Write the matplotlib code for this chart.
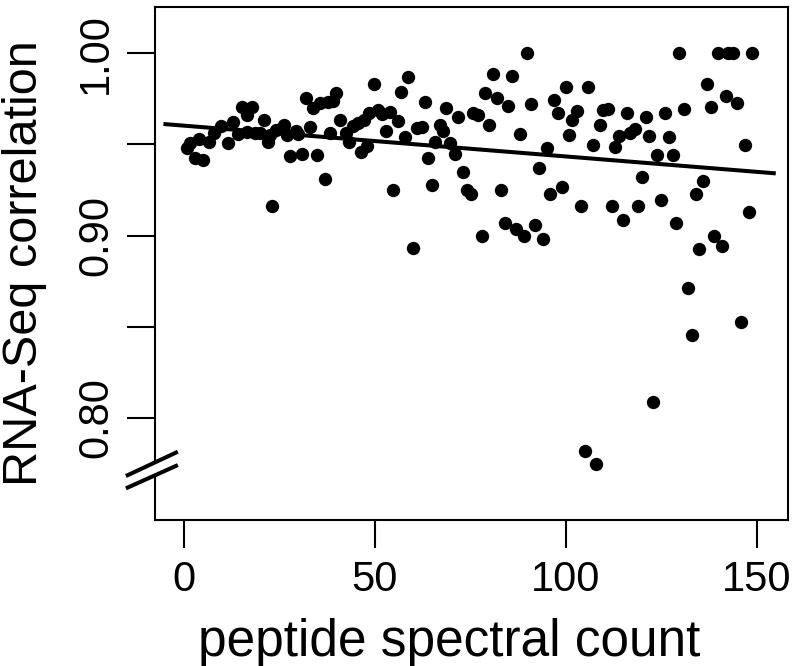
import matplotlib
matplotlib.use("Agg")
import matplotlib.pyplot as plt
from matplotlib.transforms import blended_transform_factory
from matplotlib.patches import Polygon

plt.rcParams['font.family'] = ['Liberation Sans', 'DejaVu Sans']

# ---- data ----
spectral_count = [
    1.0, 1.6, 3.0, 4.1, 5.1, 6.7, 8.0, 9.9, 11.7, 12.8, 14.3, 15.2, 16.5, 16.6, 18.0,
    18.7, 20.0, 21.0, 22.0, 22.6, 23.0, 24.3, 26.2, 27.0, 27.8, 29.3, 30.0, 30.9, 32.0,
    33.1, 33.9, 34.8, 35.8, 37.0, 37.9, 38.3, 39.0, 40.0, 40.9, 42.5, 43.3, 44.4, 45.7,
    46.5, 47.3, 47.9, 48.5, 49.8, 50.9, 52.0, 53.0, 54.0, 54.9, 56.2, 57.0, 58.0, 58.8,
    60.1, 61.0, 62.3, 63.2, 64.0, 64.9, 65.8, 67.1, 68.0, 68.8, 69.7, 71.0, 71.9, 73.1,
    74.1, 75.1, 75.8, 77.1, 78.0, 78.9, 79.9, 81.0, 82.0, 83.0, 84.1, 85.0, 85.9, 87.0,
    88.0, 89.0, 89.9, 90.9, 92.0, 93.0, 94.0, 95.0, 96.0, 97.0, 98.0, 99.0, 100.0, 100.9,
    101.6, 102.9, 104.0, 105.0, 105.9, 107.1, 107.9, 109.0, 109.8, 111.2, 112.0, 113.0,
    113.9, 114.9, 116.0, 116.9, 118.1, 119.0, 119.9, 121.0, 121.9, 122.9, 123.8, 125.0,
    126.0, 127.0, 128.0, 129.0, 129.7, 130.9, 131.9, 133.0, 134.0, 134.9, 136.0, 136.9,
    138.0, 138.9, 140.0, 140.9, 142.0, 142.6, 143.9, 144.9, 145.9, 146.9, 148.0, 148.8,
]
rnaseq_corr = [
    0.9480, 0.9506, 0.9426, 0.9530, 0.9413, 0.9515, 0.9565, 0.9600, 0.9506, 0.9622,
    0.9557, 0.9707, 0.9570, 0.9661, 0.9705, 0.9565, 0.9561, 0.9634, 0.9515, 0.9551,
    0.9160, 0.9580, 0.9606, 0.9551, 0.9436, 0.9575, 0.9556, 0.9447, 0.9753, 0.9597,
    0.9698, 0.9444, 0.9726, 0.9310, 0.9735, 0.9561, 0.9740, 0.9781, 0.9634, 0.9565,
    0.9515, 0.9601, 0.9616, 0.9456, 0.9634, 0.9492, 0.9671, 0.9832, 0.9689, 0.9667,
    0.9572, 0.9676, 0.9251, 0.9629, 0.9788, 0.9538, 0.9872, 0.8929, 0.9588, 0.9596,
    0.9733, 0.9425, 0.9277, 0.9515, 0.9606, 0.9573, 0.9698, 0.9509, 0.9445, 0.9648,
    0.9350, 0.9250, 0.9228, 0.9675, 0.9663, 0.8995, 0.9782, 0.9606, 0.9885, 0.9755,
    0.9250, 0.9067, 0.9711, 0.9875, 0.9035, 0.9557, 0.8995, 1.0000, 0.9720, 0.9060,
    0.9373, 0.8980, 0.9483, 0.9229, 0.9744, 0.9670, 0.9268, 0.9815, 0.9551, 0.9634,
    0.9686, 0.9162, 0.7817, 0.9813, 0.9497, 0.7746, 0.9604, 0.9689, 0.9696, 0.9162,
    0.9486, 0.9544, 0.9085, 0.9673, 0.9565, 0.9587, 0.9162, 0.9319, 0.9652, 0.9544,
    0.8087, 0.9444, 0.9196, 0.9674, 0.9542, 0.9442, 0.9068, 1.0000, 0.9695, 0.8710,
    0.8454, 0.9228, 0.8924, 0.9299, 0.9832, 0.9703, 0.8997, 1.0000, 0.8945, 0.9765,
    1.0000, 1.0000, 0.9726, 0.8524, 0.9497, 0.9128, 1.0000,
]
fit_x = [-5.3, 155.0]
fit_y = [0.9612, 0.9341]

x_ticks = [0, 50, 100, 150]
x_tick_labels = ["0", "50", "100", "150"]
y_ticks = [0.80, 0.85, 0.90, 0.95, 1.00]
y_tick_labels = ["0.80", "", "0.90", "", "1.00"]

x_label = "peptide spectral count"
y_label = "RNA-Seq correlation"

# ---- figure ----
W, H = 792, 666
fig = plt.figure(figsize=(W / 100, H / 100), dpi=100)
ax = fig.add_axes([155 / W, (H - 520) / H, 633 / W, 513 / H])

ax.plot(spectral_count, rnaseq_corr, linestyle='none', marker='o',
        markersize=9.6, color='black', markeredgewidth=0, zorder=3)
ax.plot(fit_x, fit_y, color='black', linewidth=2.9, solid_capstyle='butt', zorder=4)

ax.set_xlim(-7.5, 158.2)
ax.set_ylim(0.7439, 1.0254)

ax.set_xticks(x_ticks)
ax.set_xticklabels(x_tick_labels)
ax.set_yticks(y_ticks)
ax.set_yticklabels(y_tick_labels, rotation=90, va='center')

for s in ax.spines.values():
    s.set_linewidth(1.5)
ax.tick_params(axis='both', length=20, width=1.5, labelsize=30, color='black')
ax.tick_params(axis='x', pad=9)
ax.tick_params(axis='y', pad=8)

ax.set_xlabel(x_label, fontsize=37)
ax.set_ylabel(y_label, fontsize=35)
ax.xaxis.set_label_coords((449 - 155) / 633, (520 - 618) / 513)
ax.yaxis.set_label_coords((47 - 155) / 633, 0.5)

# axis break marker on left spine
tr = blended_transform_factory(ax.transAxes, ax.transData)
x0, x1 = -0.0431, 0.0332
up = (0.7685, 0.7809)
lo = (0.7617, 0.7736)
gap = Polygon([[x0, lo[0]], [x1, lo[1]], [x1, up[1]], [x0, up[0]]], closed=True,
              facecolor='white', edgecolor='none', transform=tr, clip_on=False, zorder=5)
ax.add_patch(gap)
ax.plot([x0, x1], [up[0], up[1]], color='black', lw=2.9, transform=tr, clip_on=False, zorder=6)
ax.plot([x0, x1], [lo[0], lo[1]], color='black', lw=2.9, transform=tr, clip_on=False, zorder=6)

fig.savefig("out.png", dpi=100)
